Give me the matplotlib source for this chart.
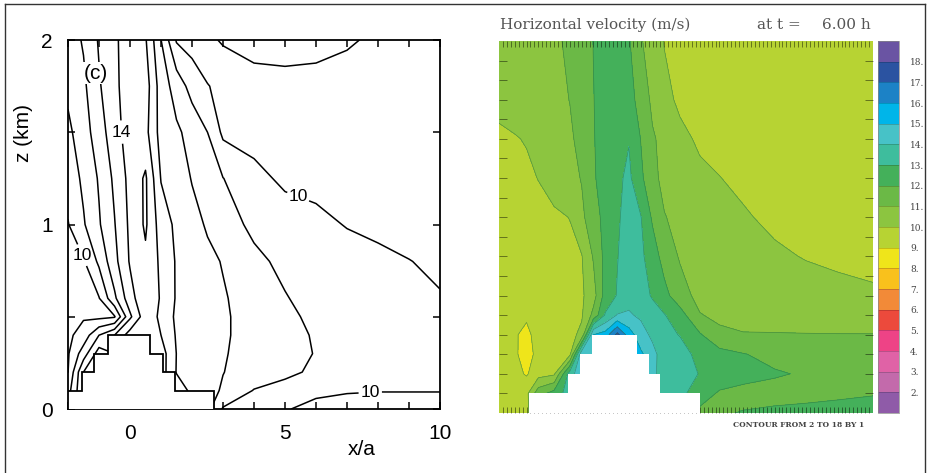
import numpy as np
import matplotlib
matplotlib.use("Agg")
import matplotlib.pyplot as plt
from matplotlib.colors import ListedColormap, BoundaryNorm
from matplotlib.lines import Line2D

plt.rcParams['font.family'] = ['Liberation Sans', 'DejaVu Sans']

# ---------------- left panel (c): contour lines of u (m/s) ----------------
left_x = [-2, -1.5, -1, -0.5, 0, 0.5, 1, 1.5, 2, 2.5, 3, 4, 5, 6, 7, 8, 9, 10]
left_z = [0, 0.1, 0.2, 0.3, 0.4, 0.5, 0.6, 0.8, 1.0, 1.25, 1.5, 1.75, 2.0]
left_u = [
    [10.6, 13.0, 13.5, 13.0, 14.5, 14.9, 14.5, 13.5, 12.8, 12.3, 10.9, 10.6, 10.1, 9.6, 9.5, 9.4, 9.4, 9.4],
    [10.6, 13.0, 13.5, 13.0, 14.5, 14.9, 14.5, 13.5, 12.8, 12.3, 11.9, 10.95, 10.6, 10.3, 10.1, 10.05, 10.05, 10.05],
    [9.98, 13.0, 13.5, 13.0, 14.5, 14.9, 14.5, 12.95, 12.6, 12.3, 12.02, 11.6, 11.25, 10.8, 10.5, 10.4, 10.35, 10.3],
    [9.9, 11.5, 13.5, 13.0, 14.5, 14.9, 14.5, 12.98, 12.6, 12.35, 12.05, 11.75, 11.4, 10.95, 10.7, 10.6, 10.55, 10.5],
    [9.8, 10.4, 12.0, 13.0, 14.5, 14.9, 14.0, 12.9, 12.5, 12.3, 12.1, 11.7, 11.35, 10.9, 10.65, 10.5, 10.4, 10.35],
    [9.7, 9.9, 9.75, 9.9, 12.8, 14.6, 13.8, 12.8, 12.5, 12.3, 12.1, 11.7, 11.2, 10.8, 10.6, 10.45, 10.35, 10.3],
    [9.6, 9.6, 9.95, 11.8, 13.6, 14.8, 13.9, 12.9, 12.55, 12.3, 12.08, 11.6, 11.05, 10.7, 10.45, 10.3, 10.15, 10.05],
    [9.6, 9.9, 11.2, 12.7, 14.1, 14.8, 13.8, 12.9, 12.5, 12.2, 11.95, 11.2, 10.8, 10.55, 10.4, 10.2, 10.02, 9.85],
    [9.95, 10.9, 11.9, 12.95, 14.2, 15.15, 13.5, 12.8, 12.3, 11.9, 11.4, 10.8, 10.5, 10.25, 9.95, 9.8, 9.7, 9.6],
    [10.4, 11.2, 12.1, 13.2, 14.3, 15.15, 12.95, 12.5, 11.95, 11.5, 11.02, 10.3, 9.8, 9.7, 9.6, 9.55, 9.5, 9.5],
    [10.8, 11.5, 12.6, 13.5, 14.6, 14.3, 12.6, 12.15, 11.7, 11.0, 9.8, 9.6, 9.5, 9.45, 9.45, 9.45, 9.5, 9.55],
    [11.2, 11.8, 12.9, 13.7, 14.7, 14.5, 12.5, 11.6, 10.6, 10.05, 9.7, 9.4, 9.3, 9.3, 9.35, 9.4, 9.5, 9.55],
    [11.5, 12.1, 13.1, 13.8, 14.6, 14.1, 12.02, 9.9, 9.6, 9.2, 8.9, 8.6, 8.6, 8.7, 8.9, 9.15, 9.3, 9.4],
]
left_levels = [9, 11, 12, 13, 15]
left_label_levels = [10, 14]
# stepped mountain: left edge, right edge, top (km)
left_step_lo = [-2.0, -1.55, -1.15, -0.7]
left_step_hi = [2.7, 1.45, 1.05, 0.65]
left_step_h = [0.1, 0.2, 0.3, 0.4]

# ---------------- right panel: model horizontal velocity ----------------
right_x = [0, 4, 7, 10, 14, 18, 21, 24, 27, 30, 33, 36, 39, 42, 46, 51, 56, 62, 70, 78, 86, 95]
right_z = [0, 1, 2, 3, 4, 5, 6, 8, 10, 12, 14, 16, 19]
right_u = [
    [9.6, 9.6, 9.65, 11.6, 12.4, 13.5, 14.8, 15.0, 15.4, 17.3, 15.5, 15.2, 14.2, 13.4, 13.3, 11.8, 11.9, 12.05, 12.2, 12.3, 12.3, 12.35],
    [9.6, 9.55, 9.75, 11.6, 12.4, 13.5, 14.8, 15.0, 15.4, 17.3, 15.5, 15.2, 14.2, 13.4, 13.3, 12.4, 11.9, 11.7, 11.65, 11.7, 11.85, 11.95],
    [9.5, 9.3, 8.9, 9.6, 9.85, 13.5, 14.8, 15.0, 15.4, 17.3, 15.5, 15.2, 14.2, 13.6, 13.5, 12.95, 12.5, 12.35, 12.1, 11.9, 11.7, 11.5],
    [9.45, 9.15, 8.6, 9.3, 9.6, 9.8, 14.8, 15.0, 15.4, 17.3, 15.5, 15.2, 14.3, 13.5, 13.4, 12.7, 12.35, 12.05, 11.7, 11.5, 11.4, 11.35],
    [9.4, 9.1, 8.75, 9.4, 9.6, 9.75, 10.2, 15.0, 15.4, 17.3, 15.5, 14.4, 13.8, 13.3, 12.95, 12.1, 11.2, 11.05, 11.05, 11.04, 11.03, 11.03],
    [9.45, 9.3, 9.15, 9.45, 9.6, 9.75, 9.9, 11.3, 13.1, 14.05, 14.1, 13.85, 13.4, 13.05, 12.4, 11.05, 10.8, 10.7, 10.6, 10.5, 10.45, 10.4],
    [9.5, 9.45, 9.45, 9.55, 9.65, 9.75, 9.85, 10.6, 12.4, 13.05, 13.7, 13.4, 12.9, 12.3, 11.4, 10.7, 10.6, 10.55, 10.5, 10.4, 10.3, 10.15],
    [9.5, 9.5, 9.55, 9.6, 9.7, 9.8, 9.95, 11.1, 12.3, 12.95, 13.5, 13.2, 12.5, 11.6, 10.9, 10.5, 10.4, 10.3, 10.15, 9.95, 9.8, 9.7],
    [9.55, 9.6, 9.65, 9.75, 9.85, 10.02, 10.8, 11.6, 12.3, 12.85, 13.4, 13.05, 11.85, 11.05, 10.7, 10.5, 10.3, 10.1, 9.8, 9.65, 9.55, 9.5],
    [9.6, 9.7, 9.85, 10.02, 10.4, 10.7, 11.05, 11.9, 12.4, 12.8, 13.2, 12.2, 11.3, 10.7, 10.4, 10.2, 10.02, 9.8, 9.6, 9.5, 9.5, 9.5],
    [9.8, 9.95, 10.05, 10.3, 10.6, 10.85, 11.3, 11.95, 12.4, 12.75, 12.95, 11.98, 11.1, 10.75, 10.25, 9.85, 9.7, 9.6, 9.5, 9.5, 9.5, 9.5],
    [10.3, 10.35, 10.4, 10.5, 10.7, 11.02, 11.4, 11.98, 12.35, 12.6, 12.4, 11.6, 10.8, 10.3, 9.8, 9.6, 9.5, 9.5, 9.5, 9.5, 9.5, 9.5],
    [10.5, 10.5, 10.55, 10.6, 10.8, 11.2, 11.6, 12.02, 12.4, 12.6, 12.1, 11.1, 10.5, 9.95, 9.7, 9.6, 9.5, 9.5, 9.5, 9.5, 9.5, 9.5],
]
right_step_lo = [7.5, 17.5, 20.5, 23.5]
right_step_hi = [51, 41, 38, 35]
right_step_h = [1, 2, 3, 4]

band_levels = list(range(2, 19))
band_colors = ['#c36aab', '#e062a6', '#ee4386', '#ec4a3c', '#f28a38', '#f9c11c',
               '#efe51a', '#b7d333', '#8cc540', '#6bb946', '#44b05a', '#3ebd9d',
               '#47c2c7', '#00b5e9', '#1c82c6', '#2b53a1']
under_color = '#8f5ba8'
over_color = '#6a54a3'


def stair_profile(lo, hi, h):
    edges = sorted(set(lo + hi))
    tops = []
    for a, b in zip(edges[:-1], edges[1:]):
        mid = 0.5 * (a + b)
        tops.append(max([t for l, r, t in zip(lo, hi, h) if l <= mid <= r] or [0]))
    return np.array(tops), np.array(edges)


fig = plt.figure(figsize=(9.28, 4.73), dpi=100)

# ---- left axes ----
axL = fig.add_axes([68 / 928, 64 / 473, 372 / 928, 369 / 473])
axL.contour(left_x, left_z, left_u, levels=left_levels, colors='k', linewidths=1.1)
cs = axL.contour(left_x, left_z, left_u, levels=left_label_levels, colors='k', linewidths=1.1)
labels = axL.clabel(cs, inline=True, inline_spacing=2, fontsize=12.5, fmt='%d',
                    manual=[(-0.38, 1.5), (-1.46, 0.84), (5.4, 1.14), (7.75, 0.09)])
for t in labels:
    t.set_rotation(0)
tops, edges = stair_profile(left_step_lo, left_step_hi, left_step_h)
axL.stairs(tops, edges, baseline=0, fill=True, color='white', zorder=3)
axL.stairs(tops, edges, baseline=0, color='k', linewidth=1.3, zorder=4)
axL.text(-1.1, 1.82, '(c)', fontsize=15, ha='center', va='center', zorder=5,
         bbox=dict(facecolor='white', edgecolor='none', pad=1))
axL.set_xlim(-2, 10)
axL.set_ylim(0, 2)
axL.set_xticks([0, 5, 10])
axL.set_xticks(np.arange(-2, 11, 1), minor=True)
axL.set_yticks([0, 1, 2])
axL.set_yticks([0.5, 1.5], minor=True)
axL.tick_params(which='both', direction='in', top=True, right=True, length=5, width=1.1)
axL.tick_params(labelsize=15, pad=11)
for s in axL.spines.values():
    s.set_linewidth(1.3)
axL.set_xlabel('x/a', fontsize=15)
axL.xaxis.set_label_coords(0.79, -0.085)
axL.set_ylabel('z (km)', fontsize=15)
axL.yaxis.set_label_coords(-0.094, 0.748)

# ---- right axes ----
axR = fig.add_axes([499 / 928, 60 / 473, 374 / 928, 372 / 473])
cmap = ListedColormap(band_colors)
cmap.set_under(under_color)
cmap.set_over(over_color)
norm = BoundaryNorm(band_levels, cmap.N)
cf = axR.contourf(right_x, right_z, right_u, levels=band_levels, cmap=cmap, norm=norm, extend='both')
axR.contour(right_x, right_z, right_u, levels=band_levels, colors='#2a6b33', linewidths=0.5, alpha=0.55)
rtops, redges = stair_profile(right_step_lo, right_step_hi, right_step_h)
axR.stairs(rtops, redges, baseline=0, fill=True, color='white', zorder=2.2)
axR.set_xlim(0, 95)
axR.set_ylim(0, 19)
axR.set_xticks(np.arange(1, 95))
axR.set_yticks(np.arange(1, 19))
axR.tick_params(axis='x', direction='in', top=True, bottom=True, length=4.5, width=0.7,
                color=(0, 0, 0, 0.45), labelbottom=False)
axR.tick_params(axis='y', direction='in', left=True, right=True, length=6, width=0.7,
                color=(0, 0, 0, 0.45), labelleft=False)
for s in axR.spines.values():
    s.set_visible(False)

cax = fig.add_axes([878 / 928, 60 / 473, 21 / 928, 372 / 473])
cb = fig.colorbar(cf, cax=cax, extend='both', extendrect=True, extendfrac=1 / 16,
                  drawedges=True, ticks=band_levels)
cb.ax.set_yticklabels([f'{v}.' for v in band_levels], family='DejaVu Serif')
cb.ax.tick_params(length=0, pad=8, labelsize=6.5, labelcolor='#444')
cb.outline.set_linewidth(0.5)
cb.outline.set_edgecolor('#888')
cb.dividers.set_color((0, 0, 0, 0.25))
cb.dividers.set_linewidth(0.5)

title_y = 1 - 25 / 473
fig.text(500 / 928, title_y, 'Horizontal velocity (m/s)', ha='left', va='center',
         fontsize=11, family='DejaVu Serif', color='#555')
fig.text(757 / 928, title_y, 'at t =', ha='left', va='center',
         fontsize=11, family='DejaVu Serif', color='#555')
fig.text(871 / 928, title_y, '6.00 h', ha='right', va='center',
         fontsize=11, family='DejaVu Serif', color='#555')
fig.text(864 / 928, 1 - 425 / 473, 'CONTOUR FROM 2 TO 18 BY 1', ha='right', va='center',
         fontsize=5.4, family='DejaVu Serif', weight='bold', color='#444')

# frame around the composite
for xs, ys in [([5 / 928, 925 / 928], [1 - 4 / 473, 1 - 4 / 473]),
               ([5 / 928, 5 / 928], [0, 1 - 4 / 473]),
               ([925 / 928, 925 / 928], [0, 1 - 4 / 473])]:
    fig.add_artist(Line2D(xs, ys, transform=fig.transFigure, color='#333', linewidth=1))

fig.savefig('out.png', dpi=100)
